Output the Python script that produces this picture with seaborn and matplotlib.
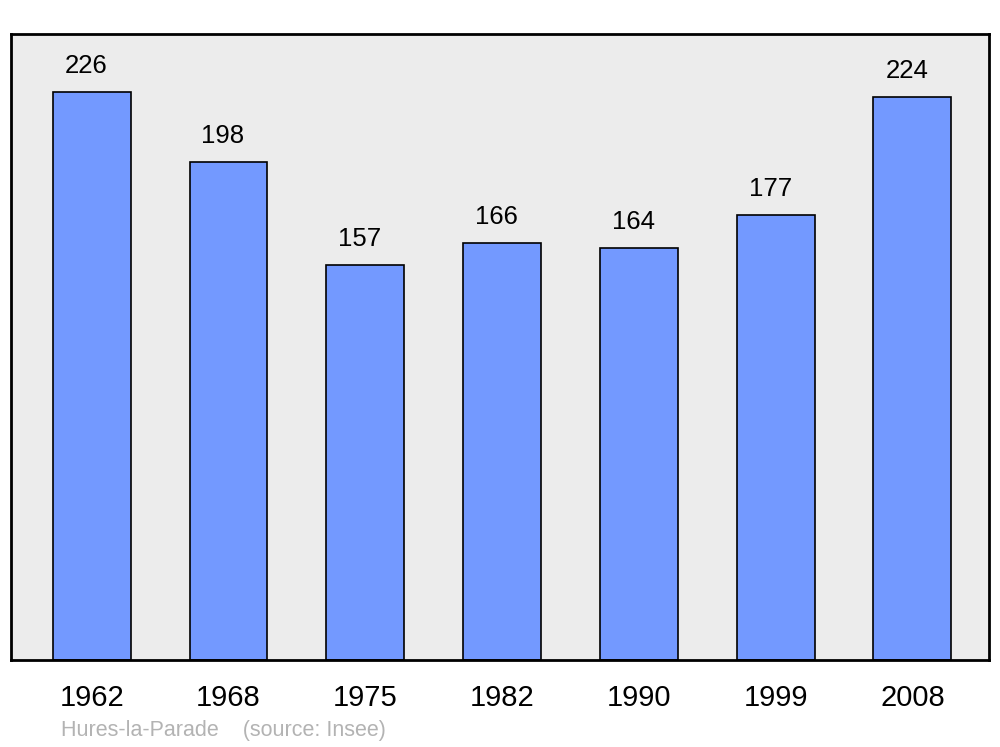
import matplotlib
matplotlib.use("Agg")
import matplotlib.pyplot as plt
import seaborn as sns
import pandas as pd

years = ["1962", "1968", "1975", "1982", "1990", "1999", "2008"]
population = [226, 198, 157, 166, 164, 177, 224]
commune = "Hures-la-Parade"
source = "(source: Insee)"

sns.set_style("white")
plt.rcParams["font.family"] = ["Liberation Sans", "DejaVu Sans"]
plt.rcParams["text.color"] = "black"
plt.rcParams["xtick.color"] = "black"

df = pd.DataFrame({"year": years, "population": population})

fig = plt.figure(figsize=(10, 7.47), dpi=100)
ax = fig.add_axes([0.011, 0.1165, 0.978, 0.838])
ax.set_facecolor("#ececec")

sns.barplot(data=df, x="year", y="population", color="#7399ff", saturation=1,
            width=0.57, edgecolor="black", linewidth=1.2, ax=ax)

for i, v in enumerate(population):
    ax.text(i - 0.04, v + 5.5, str(v), ha="center", va="bottom", fontsize=18.5,
            color="black")

ax.set_xlim(-0.59, 6.56)
ax.set_ylim(0, 249)
ax.set_yticks([])
ax.set_xlabel("")
ax.set_ylabel("")
ax.set_xticks(range(len(years)))
ax.set_xticklabels(years)
for lab in ax.get_xticklabels():
    lab.set_x(lab.get_position()[0])
ax.tick_params(axis="x", length=0, labelsize=21, pad=17, labelcolor="black")
for s in ax.spines.values():
    s.set_visible(True)
    s.set_color("black")
    s.set_linewidth(2)

fig.text(0.061, 0.022, commune + "    " + source, fontsize=15.5, color="#b3b3b3",
         ha="left", va="center")

fig.savefig("out.png", dpi=100, facecolor="white")
